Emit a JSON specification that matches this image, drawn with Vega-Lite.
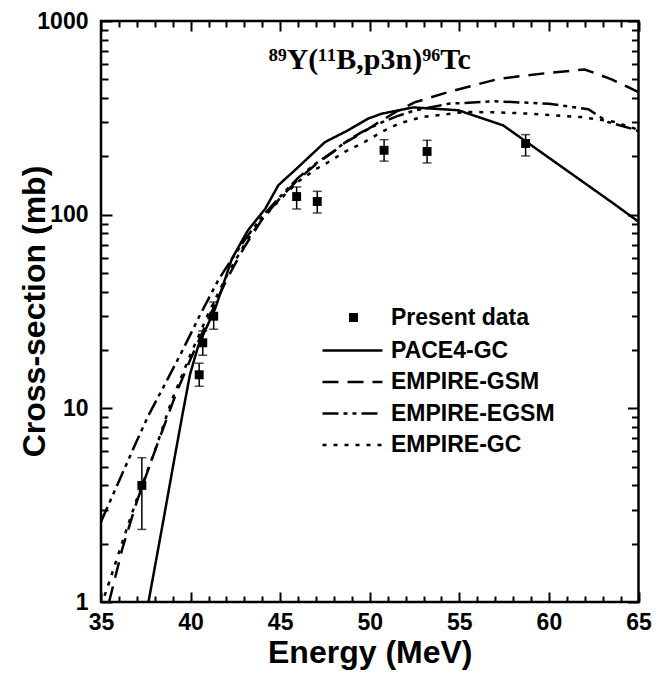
{
  "$schema": "https://vega.github.io/schema/vega-lite/v6.json",
  "width": 537.5,
  "height": 581,
  "padding": {"left": 18, "top": 10, "right": 5, "bottom": 5},
  "title": {"text": "⁸⁹Y(¹¹B,p3n)⁹⁶Tc", "font": "Liberation Serif", "fontSize": 30, "fontWeight": "bold", "color": "black", "offset": -89, "anchor": "middle", "baseline": "alphabetic"},
  "datasets": {
    "curves": [
      {"model": "PACE4-GC", "E": 37.65, "cs": 1.0},
      {"model": "PACE4-GC", "E": 38.5, "cs": 2.7},
      {"model": "PACE4-GC", "E": 39.0, "cs": 4.9},
      {"model": "PACE4-GC", "E": 39.5, "cs": 8.8},
      {"model": "PACE4-GC", "E": 39.97, "cs": 15.0},
      {"model": "PACE4-GC", "E": 40.44, "cs": 21.2},
      {"model": "PACE4-GC", "E": 41.37, "cs": 32.7},
      {"model": "PACE4-GC", "E": 42.3, "cs": 59},
      {"model": "PACE4-GC", "E": 43.2, "cs": 83},
      {"model": "PACE4-GC", "E": 44.16, "cs": 107},
      {"model": "PACE4-GC", "E": 44.9, "cs": 142},
      {"model": "PACE4-GC", "E": 45.92, "cs": 173},
      {"model": "PACE4-GC", "E": 47.5, "cs": 237},
      {"model": "PACE4-GC", "E": 48.8, "cs": 273},
      {"model": "PACE4-GC", "E": 49.9, "cs": 313},
      {"model": "PACE4-GC", "E": 50.66, "cs": 332},
      {"model": "PACE4-GC", "E": 52.43, "cs": 358},
      {"model": "PACE4-GC", "E": 54.94, "cs": 346},
      {"model": "PACE4-GC", "E": 57.45, "cs": 289},
      {"model": "PACE4-GC", "E": 63.5, "cs": 116},
      {"model": "PACE4-GC", "E": 65, "cs": 92},
      {"model": "EMPIRE-GSM", "E": 35.45, "cs": 1.0},
      {"model": "EMPIRE-GSM", "E": 36.2, "cs": 1.9},
      {"model": "EMPIRE-GSM", "E": 37, "cs": 3.3},
      {"model": "EMPIRE-GSM", "E": 38, "cs": 6.0},
      {"model": "EMPIRE-GSM", "E": 39.2, "cs": 12},
      {"model": "EMPIRE-GSM", "E": 40, "cs": 18},
      {"model": "EMPIRE-GSM", "E": 41, "cs": 29},
      {"model": "EMPIRE-GSM", "E": 42, "cs": 46},
      {"model": "EMPIRE-GSM", "E": 43, "cs": 68},
      {"model": "EMPIRE-GSM", "E": 44, "cs": 95},
      {"model": "EMPIRE-GSM", "E": 45, "cs": 122},
      {"model": "EMPIRE-GSM", "E": 46, "cs": 152},
      {"model": "EMPIRE-GSM", "E": 47, "cs": 182},
      {"model": "EMPIRE-GSM", "E": 48, "cs": 212},
      {"model": "EMPIRE-GSM", "E": 48.6, "cs": 235},
      {"model": "EMPIRE-GSM", "E": 49.5, "cs": 262},
      {"model": "EMPIRE-GSM", "E": 50.5, "cs": 300},
      {"model": "EMPIRE-GSM", "E": 51.6, "cs": 345},
      {"model": "EMPIRE-GSM", "E": 52.5, "cs": 380},
      {"model": "EMPIRE-GSM", "E": 54.4, "cs": 430},
      {"model": "EMPIRE-GSM", "E": 57.2, "cs": 503},
      {"model": "EMPIRE-GSM", "E": 60, "cs": 540},
      {"model": "EMPIRE-GSM", "E": 62, "cs": 562},
      {"model": "EMPIRE-GSM", "E": 63.5, "cs": 500},
      {"model": "EMPIRE-GSM", "E": 64.8, "cs": 438},
      {"model": "EMPIRE-GSM", "E": 65, "cs": 430},
      {"model": "EMPIRE-EGSM", "E": 35, "cs": 2.6},
      {"model": "EMPIRE-EGSM", "E": 36, "cs": 4.2},
      {"model": "EMPIRE-EGSM", "E": 37, "cs": 6.8},
      {"model": "EMPIRE-EGSM", "E": 37.65, "cs": 9.2},
      {"model": "EMPIRE-EGSM", "E": 38.6, "cs": 13.5},
      {"model": "EMPIRE-EGSM", "E": 39.5, "cs": 19.5},
      {"model": "EMPIRE-EGSM", "E": 40.5, "cs": 30},
      {"model": "EMPIRE-EGSM", "E": 41.55, "cs": 46},
      {"model": "EMPIRE-EGSM", "E": 42.3, "cs": 59},
      {"model": "EMPIRE-EGSM", "E": 43.2, "cs": 78},
      {"model": "EMPIRE-EGSM", "E": 44, "cs": 98},
      {"model": "EMPIRE-EGSM", "E": 45, "cs": 124},
      {"model": "EMPIRE-EGSM", "E": 46, "cs": 155},
      {"model": "EMPIRE-EGSM", "E": 47, "cs": 184},
      {"model": "EMPIRE-EGSM", "E": 48, "cs": 213},
      {"model": "EMPIRE-EGSM", "E": 48.6, "cs": 236},
      {"model": "EMPIRE-EGSM", "E": 49.5, "cs": 265},
      {"model": "EMPIRE-EGSM", "E": 50.5, "cs": 295},
      {"model": "EMPIRE-EGSM", "E": 51.5, "cs": 322},
      {"model": "EMPIRE-EGSM", "E": 52.5, "cs": 345},
      {"model": "EMPIRE-EGSM", "E": 54.4, "cs": 374},
      {"model": "EMPIRE-EGSM", "E": 57, "cs": 385},
      {"model": "EMPIRE-EGSM", "E": 60, "cs": 374},
      {"model": "EMPIRE-EGSM", "E": 62.2, "cs": 350},
      {"model": "EMPIRE-EGSM", "E": 63.3, "cs": 301},
      {"model": "EMPIRE-EGSM", "E": 64.6, "cs": 278},
      {"model": "EMPIRE-EGSM", "E": 65, "cs": 270},
      {"model": "EMPIRE-GC", "E": 35.0, "cs": 0.95},
      {"model": "EMPIRE-GC", "E": 35.5, "cs": 1.3},
      {"model": "EMPIRE-GC", "E": 36.16, "cs": 2.0},
      {"model": "EMPIRE-GC", "E": 37, "cs": 3.4},
      {"model": "EMPIRE-GC", "E": 38, "cs": 6.0},
      {"model": "EMPIRE-GC", "E": 38.95, "cs": 11},
      {"model": "EMPIRE-GC", "E": 40, "cs": 19},
      {"model": "EMPIRE-GC", "E": 41, "cs": 31},
      {"model": "EMPIRE-GC", "E": 42, "cs": 48},
      {"model": "EMPIRE-GC", "E": 43, "cs": 70},
      {"model": "EMPIRE-GC", "E": 44, "cs": 95},
      {"model": "EMPIRE-GC", "E": 45, "cs": 120},
      {"model": "EMPIRE-GC", "E": 46, "cs": 148},
      {"model": "EMPIRE-GC", "E": 47, "cs": 172},
      {"model": "EMPIRE-GC", "E": 47.7, "cs": 187},
      {"model": "EMPIRE-GC", "E": 48.6, "cs": 211},
      {"model": "EMPIRE-GC", "E": 49.7, "cs": 237},
      {"model": "EMPIRE-GC", "E": 50.66, "cs": 267},
      {"model": "EMPIRE-GC", "E": 51.6, "cs": 295},
      {"model": "EMPIRE-GC", "E": 52.9, "cs": 319},
      {"model": "EMPIRE-GC", "E": 55.3, "cs": 339},
      {"model": "EMPIRE-GC", "E": 57, "cs": 338},
      {"model": "EMPIRE-GC", "E": 59, "cs": 332},
      {"model": "EMPIRE-GC", "E": 61.8, "cs": 319},
      {"model": "EMPIRE-GC", "E": 63.7, "cs": 301},
      {"model": "EMPIRE-GC", "E": 64.8, "cs": 278},
      {"model": "EMPIRE-GC", "E": 65, "cs": 272}
    ],
    "points": [
      {"series": "Present data", "E": 37.28, "cs": 4.0, "lo": 2.37, "hi": 5.56},
      {"series": "Present data", "E": 40.48, "cs": 14.9, "lo": 13.0, "hi": 17.1},
      {"series": "Present data", "E": 40.68, "cs": 21.8, "lo": 18.8, "hi": 25.1},
      {"series": "Present data", "E": 41.29, "cs": 29.9, "lo": 25.6, "hi": 35.4},
      {"series": "Present data", "E": 45.92, "cs": 124, "lo": 107, "hi": 139},
      {"series": "Present data", "E": 47.07, "cs": 117, "lo": 102, "hi": 132},
      {"series": "Present data", "E": 50.8, "cs": 215, "lo": 189, "hi": 244},
      {"series": "Present data", "E": 53.2, "cs": 212, "lo": 185, "hi": 242},
      {"series": "Present data", "E": 58.7, "cs": 233, "lo": 201, "hi": 259}
    ]
  },
  "layer": [
    {
      "data": {"name": "curves"},
      "mark": {"type": "line", "color": "black", "strokeWidth": 2.5, "clip": true, "strokeCap": "butt"},
      "encoding": {
        "x": {"field": "E", "type": "quantitative", "scale": {"domain": [35, 65], "nice": false, "zero": false},
          "axis": {"orient": "bottom", "values": [35, 40, 45, 50, 55, 60, 65], "ticks": true, "tickSize": 10, "offset": -10, "tickColor": "black", "tickWidth": 2, "tickOpacity": 1,
            "encode": {"ticks": {"update": {"stroke": {"value": "black"}, "strokeWidth": {"value": 2}, "strokeOpacity": {"value": 1}}}},
            "format": "d", "labelPadding": 9.5, "domain": false, "title": "Energy (MeV)", "titlePadding": 3}},
        "y": {"field": "cs", "type": "quantitative", "scale": {"type": "log", "domain": [1, 1000], "nice": false},
          "axis": {"orient": "left", "values": [1, 10, 100, 1000], "ticks": true, "tickSize": 11, "offset": -11, "tickColor": "black", "tickWidth": 2, "tickOpacity": 1,
            "encode": {"ticks": {"update": {"stroke": {"value": "black"}, "strokeWidth": {"value": 2}, "strokeOpacity": {"value": 1}}}},
            "format": "d", "labelPadding": 13, "domain": false, "title": "Cross-section (mb)",
            "titleX": -78, "titleY": 290, "titleAngle": -90, "titleAlign": "center", "titleBaseline": "middle"}},
        "strokeDash": {"field": "model", "type": "nominal",
          "scale": {"domain": ["PACE4-GC", "EMPIRE-GSM", "EMPIRE-EGSM", "EMPIRE-GC"], "range": [[1, 0], [16, 9], [16, 5, 4, 5, 4, 5], [4, 7]]},
          "legend": {"orient": "none", "legendX": 220, "legendY": 317, "title": null, "symbolType": "stroke", "symbolSize": 3600,
            "symbolStrokeWidth": 2.5, "symbolStrokeColor": "black", "labelOffset": 7, "rowPadding": 6.5, "clipHeight": 25, "labelLimit": 400}}
      }
    },
    {
      "data": {"name": "points"},
      "mark": {"type": "errorbar", "ticks": {"size": 9}, "color": "black", "thickness": 1.5},
      "encoding": {
        "x": {"field": "E", "type": "quantitative", "axis": null},
        "y": {"field": "lo", "type": "quantitative", "axis": null},
        "y2": {"field": "hi"}
      }
    },
    {
      "data": {"name": "points"},
      "mark": {"type": "point", "filled": true, "color": "black", "opacity": 1, "size": 80},
      "encoding": {
        "x": {"field": "E", "type": "quantitative", "axis": null},
        "y": {"field": "cs", "type": "quantitative", "axis": null},
        "shape": {"field": "series", "type": "nominal", "scale": {"domain": ["Present data"], "range": ["square"]},
          "legend": {"orient": "none", "legendX": 241, "legendY": 285, "title": null, "symbolFillColor": "black", "symbolStrokeColor": "black", "symbolSize": 80, "labelOffset": 26, "labelLimit": 400}}
      }
    },
    {
      "data": {"name": "points"},
      "mark": {"type": "point", "opacity": 0},
      "encoding": {
        "x": {"field": "E", "type": "quantitative",
          "axis": {"orient": "top", "values": [35, 40, 45, 50, 55, 60, 65], "ticks": true, "tickSize": 10, "offset": -10, "tickColor": "black", "tickWidth": 2,
            "encode": {"ticks": {"update": {"stroke": {"value": "black"}, "strokeWidth": {"value": 2}, "strokeOpacity": {"value": 1}}}},
            "labels": false, "domain": false, "title": null}},
        "y": {"field": "cs", "type": "quantitative",
          "axis": {"orient": "right", "values": [1, 10, 100, 1000], "ticks": true, "tickSize": 11, "offset": -11, "tickColor": "black", "tickWidth": 2,
            "encode": {"ticks": {"update": {"stroke": {"value": "black"}, "strokeWidth": {"value": 2}, "strokeOpacity": {"value": 1}}}},
            "labels": false, "domain": false, "title": null}}
      }
    },
    {
      "data": {"name": "points"},
      "mark": {"type": "point", "opacity": 0},
      "encoding": {
        "x": {"field": "E", "type": "quantitative",
          "axis": {"orient": "bottom", "values": [36,37,38,39,41,42,43,44,46,47,48,49,51,52,53,54,56,57,58,59,61,62,63,64], "ticks": true, "tickSize": 6, "offset": -6, "tickColor": "black", "tickWidth": 2,
            "encode": {"ticks": {"update": {"stroke": {"value": "black"}, "strokeWidth": {"value": 2}, "strokeOpacity": {"value": 1}}}},
            "labels": false, "domain": false, "title": null}},
        "y": {"field": "cs", "type": "quantitative",
          "axis": {"orient": "left", "values": [2,3,4,5,6,7,8,9,20,30,40,50,60,70,80,90,200,300,400,500,600,700,800,900], "ticks": true, "tickSize": 7, "offset": -7, "tickColor": "black", "tickWidth": 2,
            "encode": {"ticks": {"update": {"stroke": {"value": "black"}, "strokeWidth": {"value": 2}, "strokeOpacity": {"value": 1}}}},
            "labels": false, "domain": false, "title": null}}
      }
    },
    {
      "data": {"name": "points"},
      "mark": {"type": "point", "opacity": 0},
      "encoding": {
        "x": {"field": "E", "type": "quantitative",
          "axis": {"orient": "top", "values": [36,37,38,39,41,42,43,44,46,47,48,49,51,52,53,54,56,57,58,59,61,62,63,64], "ticks": true, "tickSize": 6, "offset": -6, "tickColor": "black", "tickWidth": 2,
            "encode": {"ticks": {"update": {"stroke": {"value": "black"}, "strokeWidth": {"value": 2}, "strokeOpacity": {"value": 1}}}},
            "labels": false, "domain": false, "title": null}},
        "y": {"field": "cs", "type": "quantitative",
          "axis": {"orient": "right", "values": [2,3,4,5,6,7,8,9,20,30,40,50,60,70,80,90,200,300,400,500,600,700,800,900], "ticks": true, "tickSize": 7, "offset": -7, "tickColor": "black", "tickWidth": 2,
            "encode": {"ticks": {"update": {"stroke": {"value": "black"}, "strokeWidth": {"value": 2}, "strokeOpacity": {"value": 1}}}},
            "labels": false, "domain": false, "title": null}}
      }
    }
  ],
  "resolve": {"axis": {"x": "independent", "y": "independent"}},
  "config": {
    "view": {"stroke": "black", "strokeWidth": 2.5},
    "axis": {"grid": false, "zindex": 1,
      "labelFont": "Liberation Sans", "labelFontSize": 23, "labelFontWeight": "bold", "labelColor": "black",
      "titleFont": "Liberation Sans", "titleFontSize": 32, "titleFontWeight": "bold", "titleColor": "black",
      "labelOverlap": false, "labelFlush": false, "labelBound": false},
    "legend": {"labelFont": "Liberation Sans", "labelFontSize": 23, "labelFontWeight": "bold", "labelColor": "black", "padding": 0}
  }
}
